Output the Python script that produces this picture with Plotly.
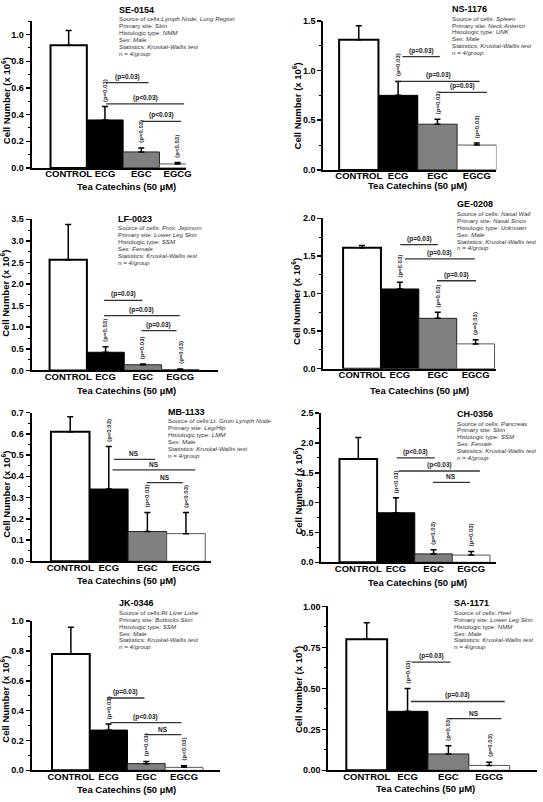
import plotly.graph_objects as go

W, H = 543, 802

# ---------------- data ----------------
categories = ["CONTROL", "ECG", "EGC", "EGCG"]
patients = ["SE-0154", "NS-1176", "LF-0023", "GE-0208", "MB-1133", "CH-0356", "JK-0346", "SA-1171"]
sources = ["Lymph Node, Lung Region", "Spleen", "Prox. Jejunum", "Nasal Wall",
           "Lt. Groin Lymph Node", "Pancreas", "Rt Liver Lobe", "Heel"]
source_sep = ["", " ", " ", " ", "", " ", "", " "]
primary_sites = ["Skin", "Neck Anterior", "Lower Leg Skin", "Nasal Sinus",
                 "Leg/Hip", "Skin", "Buttocks Skin", "Lower Leg Skin"]
histologic = ["NMM", "UNK", "SSM", "Unknown", "LMM", "SSM", "SSM", "NMM"]
sexes = ["Male", "Male", "Female", "Male", "Male", "Female", "Male", "Male"]

cell_means = [
    [0.92, 0.36, 0.12, 0.03],
    [1.31, 0.75, 0.46, 0.25],
    [2.56, 0.42, 0.13, 0.02],
    [1.61, 1.06, 0.67, 0.33],
    [0.61, 0.34, 0.14, 0.13],
    [1.73, 0.83, 0.14, 0.12],
    [0.78, 0.27, 0.045, 0.02],
    [0.80, 0.36, 0.10, 0.03],
]
cell_err = [
    [0.11, 0.10, 0.03, 0.01],
    [0.14, 0.14, 0.05, 0.02],
    [0.82, 0.13, 0.02, 0.01],
    [0.03, 0.09, 0.08, 0.055],
    [0.07, 0.20, 0.09, 0.10],
    [0.36, 0.25, 0.07, 0.06],
    [0.18, 0.04, 0.015, 0.01],
    [0.10, 0.14, 0.05, 0.02],
]
# p-value labels written vertically above ECG, EGC, EGCG bars
bar_pvalues = [
    ["(p=0.03)", "(p=0.03)", "(p<0.03)"],
    ["(p=0.03)", "(p=0.03)", "(p=0.03)"],
    ["(p=0.03)", "(p=0.03)", "(p=0.03)"],
    ["(p=0.03)", "(p=0.03)", "(p=0.03)"],
    ["(p<0.03)", "(p<0.03)", "(p<0.03)"],
    ["(p<0.03)", "(p=0.03)", "(p=0.03)"],
    ["(p=0.03)", "(p=0.03)", "(p<0.03)"],
    ["(p=0.03)", "(p=0.03)", "(p=0.03)"],
]
# pairwise comparison brackets: (from, to, level, label)
brackets = [
    [(1.03, 2.20, 0.64, "(p=0.03)"), (1.03, 3.18, 0.48, "(p<0.03)"), (2.01, 3.10, 0.35, "(p<0.03)")],
    [(1.11, 2.06, 1.14, "(p=0.03)"), (0.98, 3.07, 0.89, "(p=0.03)"), (2.03, 3.26, 0.78, "(p=0.03)")],
    [(0.96, 1.99, 1.62, "(p=0.03)"), (0.96, 2.99, 1.27, "(p=0.03)"), (1.96, 2.90, 0.92, "(p=0.03)")],
    [(1.01, 2.00, 1.65, "(p=0.03)"), (1.13, 2.98, 1.46, "(p=0.03)"), (1.98, 3.01, 1.17, "(p=0.03)")],
    [(1.13, 2.20, 0.48, "NS"), (1.10, 3.24, 0.43, "NS"), (1.98, 2.92, 0.37, "NS")],
    [(1.02, 2.03, 1.75, "(p<0.03)"), (1.08, 3.23, 1.53, "(p<0.03)"), (1.98, 2.97, 1.34, "NS")],
    [(0.96, 1.95, 0.485, "(p=0.03)"), (1.05, 2.93, 0.32, "(p<0.03)"), (1.97, 2.93, 0.24, "NS")],
    [(1.10, 2.05, 0.66, "(p=0.03)"), (1.08, 3.38, 0.42, "(p=0.03)"), (1.97, 3.30, 0.315, "NS")],
]
y_max = [1.1, 1.5, 3.5, 2.0, 0.7, 2.5, 1.0, 1.0]
y_dtick = [0.2, 0.5, 0.5, 0.5, 0.1, 0.5, 0.2, 0.25]
y_fmt = [".1f"] * 7 + [".2f"]

# ---------------- layout geometry (pixels) ----------------
boxes = [  # x0, x1, ytop, ybottom
    (32, 188, 16.5, 165), (327, 502, 16, 167),
    (32, 220, 217, 370), (327, 502, 216, 368.3),
    (32, 213, 412.7, 563.3), (325, 502, 413.3, 564.3),
    (32, 222.7, 624, 775), (332, 543, 609, 775),
]
x_ranges = [(-1.02, 3.23), (-0.9, 3.5), (-0.98, 4.0), (-1.02, 3.55),
            (-1.0, 3.64), (-0.98, 3.67), (-1.04, 3.96), (-0.94, 4.17)]
ytitle_pos = [(5.5, 97), (300, 102), (5.5, 292), (300, 300),
              (6, 495), (301, 492), (5.5, 703), (302, 693)]
xtitle_pos = [(128, 183.3), (422, 183), (128, 390), (424, 390),
              (128, 583), (422, 585), (128, 794), (430, 793.3)]
head_x = [118, 455, 117, 460, 168, 460, 118, 457]
info_top = [13.7, 13.3, 225.7, 211, 421, 423.3, 615, 615]
INFO_STEP = 7.0

FONT = "Liberation Sans, Arial, sans-serif"
bar_fill = ["white", "black", "#808080", "white"]
bar_line = ["black", "black", "#222222", "#555555"]
bar_lw = [2, 1, 1, 1]


def px(x):
    return x / W


def py(y):
    return 1 - y / H


def esc(s):
    return s.replace("<", "&lt;")


fig = go.Figure()
layout = dict(width=W, height=H, margin=dict(l=0, r=0, t=0, b=0), autosize=False,
              paper_bgcolor="white", plot_bgcolor="white", showlegend=False,
              bargap=0, font=dict(family=FONT, color="black"))
shapes, annotations = [], []

for i in range(8):
    sfx = "" if i == 0 else str(i + 1)
    xa, ya = "x" + sfx, "y" + sfx
    x0, x1, yt, yb = boxes[i]
    fig.add_trace(go.Bar(
        x=[0, 1, 2, 3], y=cell_means[i], width=1,
        marker=dict(color=bar_fill, line=dict(color=bar_line, width=bar_lw)),
        error_y=dict(type="data", symmetric=False, array=cell_err[i],
                     arrayminus=[0, 0, 0, 0], color="black", thickness=1.5, width=3),
        xaxis=xa, yaxis=ya, hoverinfo="skip"))

    layout["xaxis" + sfx] = dict(
        domain=[px(x0), px(x1)], range=list(x_ranges[i]), anchor=ya,
        tickvals=[0, 1, 2, 3], ticktext=categories, ticks="", ticklabelstandoff=-4,
        showline=True, linecolor="black", linewidth=2, showgrid=False, zeroline=False,
        tickfont=dict(family=FONT, size=9.5, weight="bold", color="black"), fixedrange=True)
    layout["yaxis" + sfx] = dict(
        domain=[py(yb), py(yt)], range=[0, y_max[i]], anchor=xa,
        dtick=y_dtick[i], tick0=0, tickformat=y_fmt[i], ticks="outside", ticklen=4,
        tickwidth=1.5, tickcolor="black",
        minor=dict(ticks="outside", ticklen=2, tickwidth=1, dtick=y_dtick[i] / 2, tickcolor="black"),
        showline=True, linecolor="black", linewidth=2, showgrid=False, zeroline=False,
        tickfont=dict(family=FONT, size=9, weight="bold", color="black"), fixedrange=True)

    # comparison brackets
    for (a, b, lvl, lab) in brackets[i]:
        shapes.append(dict(type="line", xref=xa, yref=ya, x0=a, x1=b, y0=lvl, y1=lvl,
                           line=dict(color="#333333", width=1.3)))
        annotations.append(dict(xref=xa, yref=ya, x=(a + b) / 2, y=lvl, text="<b>%s</b>" % esc(lab),
                                showarrow=False, yanchor="bottom", xanchor="center", yshift=0,
                                font=dict(family=FONT, size=6.5, color="#222222")))
    # vertical p-values above treatment bars
    for k in range(3):
        top = cell_means[i][k + 1] + cell_err[i][k + 1]
        annotations.append(dict(xref=xa, yref=ya, x=k + 1, y=top,
                                text="<b>%s</b>" % esc(bar_pvalues[i][k]),
                                textangle=-90, showarrow=False, yanchor="bottom", xanchor="center",
                                yshift=3, font=dict(family=FONT, size=6, color="#222222")))

    # axis titles
    tx, ty = ytitle_pos[i]
    annotations.append(dict(xref="paper", yref="paper", x=px(tx), y=py(ty),
                            text="<b>Cell Number (x 10<sup>6</sup>)</b>", textangle=-90,
                            showarrow=False, xanchor="center", yanchor="middle",
                            font=dict(family=FONT, size=9.5, color="black")))
    tx, ty = xtitle_pos[i]
    annotations.append(dict(xref="paper", yref="paper", x=px(tx), y=py(ty),
                            text="<b>Tea Catechins (50 µM)</b>", showarrow=False,
                            xanchor="center", yanchor="middle",
                            font=dict(family=FONT, size=9.5, color="black")))

    # header block
    hx = head_x[i]
    annotations.append(dict(xref="paper", yref="paper", x=px(hx), y=py(info_top[i] - 9),
                            text="<b>%s</b>" % patients[i], showarrow=False,
                            xanchor="left", yanchor="middle",
                            font=dict(family=FONT, size=9, color="black")))
    lines = [
        "Source of cells:%s<i>%s</i>" % (source_sep[i], sources[i]),
        "Primary site: <i>%s</i>" % primary_sites[i],
        "Histologic type: <i>%s</i>" % histologic[i],
        "Sex: <i>%s</i>" % sexes[i],
        "Statistics: <i>Kruskal-Wallis test</i>",
        "n = <i>4/group</i>",
    ]
    for j, ln in enumerate(lines):
        annotations.append(dict(xref="paper", yref="paper", x=px(hx), y=py(info_top[i] + j * INFO_STEP),
                                text=ln, showarrow=False, xanchor="left", yanchor="middle",
                                font=dict(family=FONT, size=6.2, color="#333333")))

layout["shapes"] = shapes
layout["annotations"] = annotations
fig.update_layout(**layout)
fig.write_html("out.html", config={"displayModeBar": False, "staticPlot": True},
               post_script="document.body.style.margin='0';document.body.style.overflow='hidden';")
